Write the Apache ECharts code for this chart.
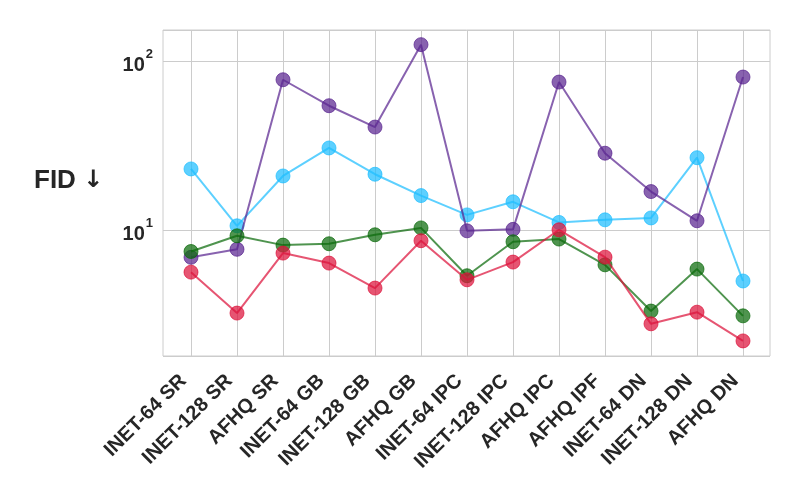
<!DOCTYPE html>
<html>
<head>
<meta charset="utf-8">
<script src="https://cdn.jsdelivr.net/npm/echarts@6/dist/echarts.min.js"></script>
<style>
html,body{margin:0;padding:0;background:#fff;}
#chart{width:800px;height:500px;}
</style>
</head>
<body>
<div id="chart"></div>
<script>
const categories = ['INET-64 SR','INET-128 SR','AFHQ SR','INET-64 GB','INET-128 GB','AFHQ GB','INET-64 IPC','INET-128 IPC','AFHQ IPC','AFHQ IPF','INET-64 DN','INET-128 DN','AFHQ DN'];
const cyanValues   = [23.0, 10.6, 20.9, 30.6, 21.4, 16.0, 12.3, 14.7, 11.1, 11.5, 11.8, 26.8, 5.0];
const purpleValues = [6.9, 7.7, 77.5, 54.4, 40.7, 125, 9.9, 10.1, 75.1, 28.5, 16.9, 11.35, 80.4];
const greenValues  = [7.47, 9.25, 8.15, 8.3, 9.38, 10.3, 5.37, 8.53, 8.85, 6.23, 3.32, 5.88, 3.11];
const redValues    = [5.64, 3.23, 7.31, 6.38, 4.54, 8.65, 5.08, 6.47, 10.04, 6.92, 2.79, 3.27, 2.21];
const yTickPowers = [1, 2];

const FONT = "'Liberation Sans', Arial, sans-serif";
const TXT = '#262626';
const GRIDC = '#cccccc';
const yMin = 1.8, yMax = 152.6;

function mkSeries(name, data, color, z) {
  return {
    name: name, type: 'line', data: data,
    xAxisIndex: 1, yAxisIndex: 1, z: z,
    symbol: 'circle', symbolSize: 14,
    lineStyle: { color: color, width: 2, opacity: 0.72 },
    itemStyle: { color: color, opacity: 0.72, borderColor: color, borderWidth: 1 },
    emphasis: { disabled: true },
    animation: false
  };
}

const chart = echarts.init(document.getElementById('chart'));
chart.setOption({
  backgroundColor: '#fff',
  animation: false,
  title: {
    text: '{t|FID }{r|↓}', left: 29, top: 163,
    textStyle: {
      rich: {
        t: { fontFamily: FONT, fontSize: 26, fontWeight: 'bold', color: TXT },
        r: { fontFamily: "'DejaVu Sans'", fontSize: 24, fontWeight: 'bold', color: TXT }
      }
    }
  },
  grid: [
    { left: 163, right: 30, top: 30, bottom: 144, show: true, borderColor: GRIDC, borderWidth: 1, backgroundColor: '#fff' },
    { left: 191, right: 57, top: 30, bottom: 144 }
  ],
  xAxis: [
    { type: 'value', gridIndex: 0, min: 0, max: 1, show: false },
    {
      type: 'category', gridIndex: 1, data: categories, boundaryGap: false,
      axisLine: { show: false }, axisTick: { show: false },
      splitLine: { show: true, lineStyle: { color: GRIDC, width: 1 } },
      axisLabel: { rotate: 45, margin: 14, padding: [0, 11, 0, 0], interval: 0, fontFamily: FONT, fontSize: 20, fontWeight: 'bold', color: TXT }
    }
  ],
  yAxis: [
    {
      type: 'log', gridIndex: 0, min: yMin, max: yMax, logBase: 10,
      axisLine: { show: false }, axisTick: { show: false },
      splitLine: { show: true, lineStyle: { color: GRIDC, width: 1 } },
      axisLabel: {
        margin: 10,
        formatter: function (v) {
          const e = Math.round(Math.log10(v));
          if (Math.abs(Math.log10(v) - e) > 1e-6 || yTickPowers.indexOf(e) < 0) return '';
          return '{a|10}{b|' + e + '}';
        },
        rich: {
          a: { fontFamily: FONT, fontSize: 20, fontWeight: 'bold', color: TXT, padding: [8, 0, 0, 0] },
          b: { fontFamily: FONT, fontSize: 13, fontWeight: 'bold', color: TXT, padding: [0, 0, 14, 1] }
        }
      }
    },
    { type: 'log', gridIndex: 1, min: yMin, max: yMax, logBase: 10, show: false, splitLine: { show: false } }
  ],
  series: [
    mkSeries('cyan', cyanValues, '#1ebeff', 2),
    mkSeries('purple', purpleValues, '#5a2590', 3),
    mkSeries('green', greenValues, '#0b6b0b', 4),
    mkSeries('red', redValues, '#dc143c', 5)
  ]
});
</script>
</body>
</html>
